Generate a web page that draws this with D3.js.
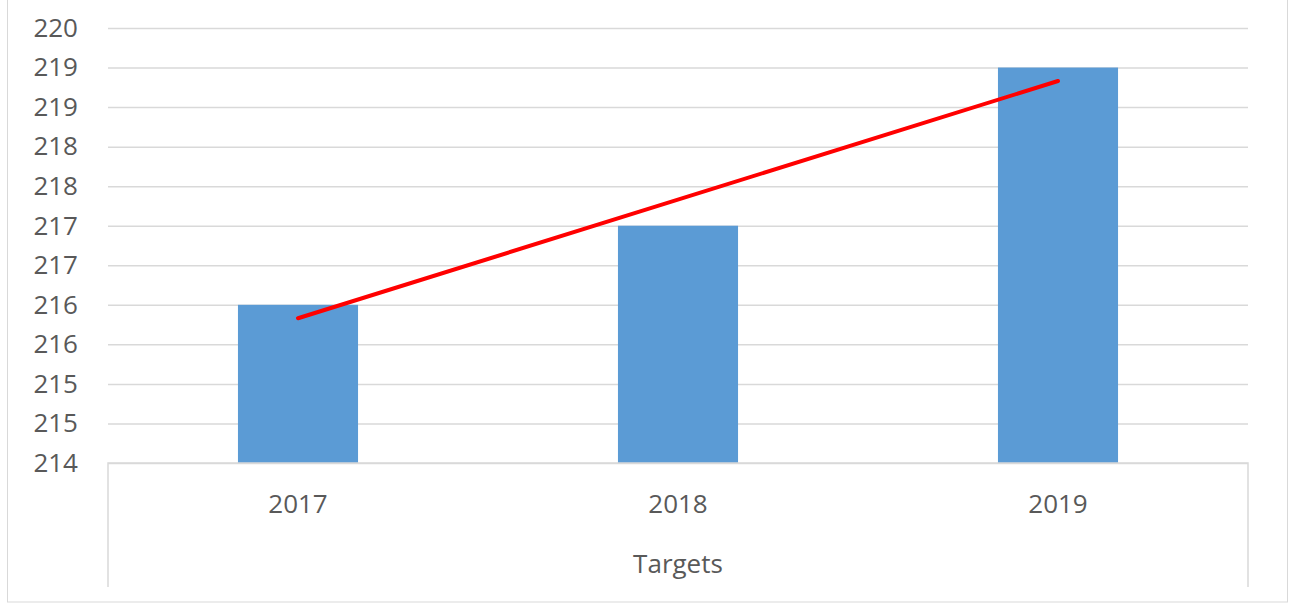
<!DOCTYPE html>
<html>
<head>
<meta charset="utf-8">
<script src="https://cdn.jsdelivr.net/npm/d3@7"></script>
<style>
  html, body { margin: 0; padding: 0; background: #ffffff; }
  svg { display: block; }
  text { font-family: "Open Sans", "Noto Sans", sans-serif; fill: #595959; }
</style>
</head>
<body>
<svg id="chart" width="1289" height="604"></svg>
<script>
// ---- data ----
const categories = ["2017", "2018", "2019"];
const targets = [216, 217, 219];
const trendCategories = ["2017", "2019"];
const trendValues = [215.83, 218.83];
const yTickValues = [214, 214.5, 215, 215.5, 216, 216.5, 217, 217.5, 218, 218.5, 219, 219.5];
const yTickLabels = ["214", "215", "215", "216", "216", "217", "217", "218", "218", "219", "219", "220"];
const axisTitle = "Targets";

// ---- layout ----
const svg = d3.select("#chart");
const plotLeft = 108, plotRight = 1248, plotTop = 28, plotBottom = 463;

// chart border
svg.append("rect")
  .attr("x", 7.5).attr("y", -5).attr("width", 1280).attr("height", 607)
  .attr("fill", "none").attr("stroke", "#d9d9d9").attr("stroke-width", 1);

const y = d3.scaleLinear().domain([214, 219.5]).range([plotBottom, plotTop]);
const x = d3.scaleBand().domain(categories).range([plotLeft, plotRight])
  .paddingInner(0.684).paddingOuter(0.342);
const xc = d3.scaleBand().domain(categories).range([plotLeft, plotRight]).padding(0);

// gridlines + y labels via axis
const yAxis = d3.axisLeft(y)
  .tickValues(yTickValues)
  .tickFormat((d, i) => yTickLabels[i])
  .tickSize(-(plotRight - plotLeft))
  .tickPadding(30);
const gy = svg.append("g").attr("transform", `translate(${plotLeft},0)`).call(yAxis);
gy.select(".domain").remove();
gy.selectAll(".tick line").attr("stroke", "#d9d9d9").attr("stroke-width", 1.5);
gy.selectAll(".tick text").attr("font-size", 26).attr("fill", "#595959")
  .attr("font-family", "'Open Sans', sans-serif");

// bars
svg.append("g").selectAll("rect").data(categories).join("rect")
  .attr("x", d => x(d))
  .attr("width", x.bandwidth())
  .attr("y", (d, i) => y(targets[i]))
  .attr("height", (d, i) => y(214) - y(targets[i]))
  .attr("fill", "#5b9bd5");

// category axis frame
svg.append("path")
  .attr("d", `M${plotLeft},587 V${plotBottom} H${plotRight} V587`)
  .attr("fill", "none").attr("stroke", "#d9d9d9").attr("stroke-width", 1.5);

// category labels
svg.append("g").selectAll("text").data(categories).join("text")
  .attr("x", d => xc(d) + xc.bandwidth() / 2)
  .attr("y", 513)
  .attr("text-anchor", "middle")
  .attr("font-size", 26)
  .text(d => d);

svg.append("text")
  .attr("x", (plotLeft + plotRight) / 2)
  .attr("y", 573)
  .attr("text-anchor", "middle")
  .attr("font-size", 26)
  .text(axisTitle);

// trendline
const line = d3.line()
  .x((d, i) => xc(trendCategories[i]) + xc.bandwidth() / 2)
  .y(d => y(d));
svg.append("path")
  .datum(trendValues)
  .attr("d", line)
  .attr("fill", "none")
  .attr("stroke", "#ff0000")
  .attr("stroke-width", 4)
  .attr("stroke-linecap", "round");
</script>
</body>
</html>
